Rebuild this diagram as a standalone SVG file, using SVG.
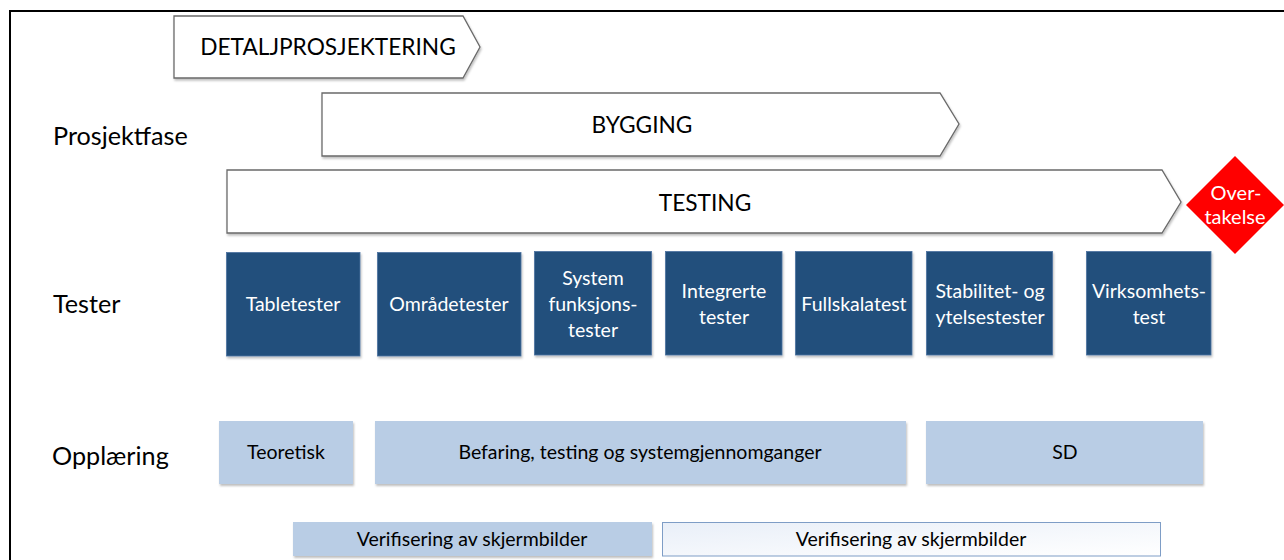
<svg xmlns="http://www.w3.org/2000/svg" width="1284" height="560" viewBox="0 0 1284 560">
<defs>
<filter id="sh" x="-5%" y="-10%" width="110%" height="130%">
<feDropShadow dx="1" dy="2" stdDeviation="1.2" flood-color="#000" flood-opacity="0.25"/>
</filter>
<linearGradient id="vg" x1="0" y1="0" x2="1" y2="1">
<stop offset="0" stop-color="#e9eff8"/>
<stop offset="1" stop-color="#ffffff"/>
</linearGradient>
</defs>
<style>
text{font-family:Lato,"Open Sans","Liberation Sans",sans-serif;}
.phase{fill:#fff;stroke:#6a6a6a;stroke-width:1.3;filter:url(#sh);}
.pt{font-size:22.7px;fill:#000;text-anchor:middle;}
.lbl{font-size:25.2px;fill:#000;}
.dark{fill:#22507c;stroke:#4a72a0;stroke-width:0.8;filter:url(#sh);}
.dt{font-size:19.5px;fill:#fff;text-anchor:middle;}
.light{fill:#b9cde5;filter:url(#sh);}
.lt{font-size:19.5px;fill:#000;text-anchor:middle;}
</style>
<rect width="1284" height="560" fill="#fff"/>
<rect x="10" y="11" width="1290" height="560" fill="none" stroke="#000" stroke-width="2"/>

<text class="lbl" x="53" y="145">Prosjektfase</text>
<text class="lbl" x="53" y="313">Tester</text>
<text class="lbl" x="52" y="465">Opplæring</text>

<g id="detalj">
<polygon class="phase" points="174,16 463,16 480,47 463,78 174,78"/>
<text class="pt" x="328" y="55">DETALJPROSJEKTERING</text>
</g>
<g id="bygging">
<polygon class="phase" points="322,93 940,93 959,124 940,156 322,156"/>
<text class="pt" x="642" y="133">BYGGING</text>
</g>
<g id="testing">
<polygon class="phase" points="227,170 1162,170 1181,202 1162,233 227,233"/>
<text class="pt" x="705" y="211">TESTING</text>
</g>
<g id="overtakelse">
<polygon points="1235,156 1284,205 1235,254 1186,205" fill="#ff0000"/>
<text class="dt" x="1236" y="200" style="font-size:20px">Over-</text>
<text class="dt" x="1235" y="224" style="font-size:20px">takelse</text>
</g>

<g id="tabletester">
<rect class="dark" x="226.5" y="252.5" width="133.5" height="103.5"/>
<text class="dt" x="293" y="311">Tabletester</text>
</g>
<g id="omradetester">
<rect class="dark" x="377.5" y="252.5" width="143.5" height="103.5"/>
<text class="dt" x="449" y="311">Områdetester</text>
</g>
<g id="systemfunksjonstester">
<rect class="dark" x="534.5" y="251.5" width="117" height="103.5"/>
<text class="dt" x="593" y="285">System</text>
<text class="dt" x="593" y="311">funksjons-</text>
<text class="dt" x="593" y="337">tester</text>
</g>
<g id="integrerte">
<rect class="dark" x="665.5" y="251.5" width="116.5" height="103.5"/>
<text class="dt" x="724" y="298">Integrerte</text>
<text class="dt" x="724" y="324">tester</text>
</g>
<g id="fullskala">
<rect class="dark" x="795.5" y="251.5" width="116.5" height="103.5"/>
<text class="dt" x="854" y="311">Fullskalatest</text>
</g>
<g id="stabilitet">
<rect class="dark" x="926.5" y="251.5" width="126" height="103.5"/>
<text class="dt" x="990" y="298">Stabilitet- og</text>
<text class="dt" x="990" y="324">ytelsestester</text>
</g>
<g id="virksomhet">
<rect class="dark" x="1086.5" y="251.5" width="124.5" height="103.5"/>
<text class="dt" x="1149" y="298">Virksomhets-</text>
<text class="dt" x="1149" y="324">test</text>
</g>

<g id="teoretisk">
<rect class="light" x="219" y="421" width="134" height="63"/>
<text class="lt" x="286" y="459">Teoretisk</text>
</g>
<g id="befaring">
<rect class="light" x="375" y="421" width="531" height="63"/>
<text class="lt" x="640" y="459">Befaring, testing og systemgjennomganger</text>
</g>
<g id="sd">
<rect class="light" x="926" y="421" width="277" height="63"/>
<text class="lt" x="1065" y="459">SD</text>
</g>
<g id="verif1">
<rect class="light" x="293" y="522" width="359" height="34"/>
<text class="lt" x="472" y="546">Verifisering av skjermbilder</text>
</g>
<g id="verif2">
<rect x="662.5" y="522.5" width="498" height="33.5" fill="url(#vg)" stroke="#7e9dc6" stroke-width="1"/>
<text class="lt" x="911" y="546">Verifisering av skjermbilder</text>
</g>
<g id="connectors"></g>
</svg>
